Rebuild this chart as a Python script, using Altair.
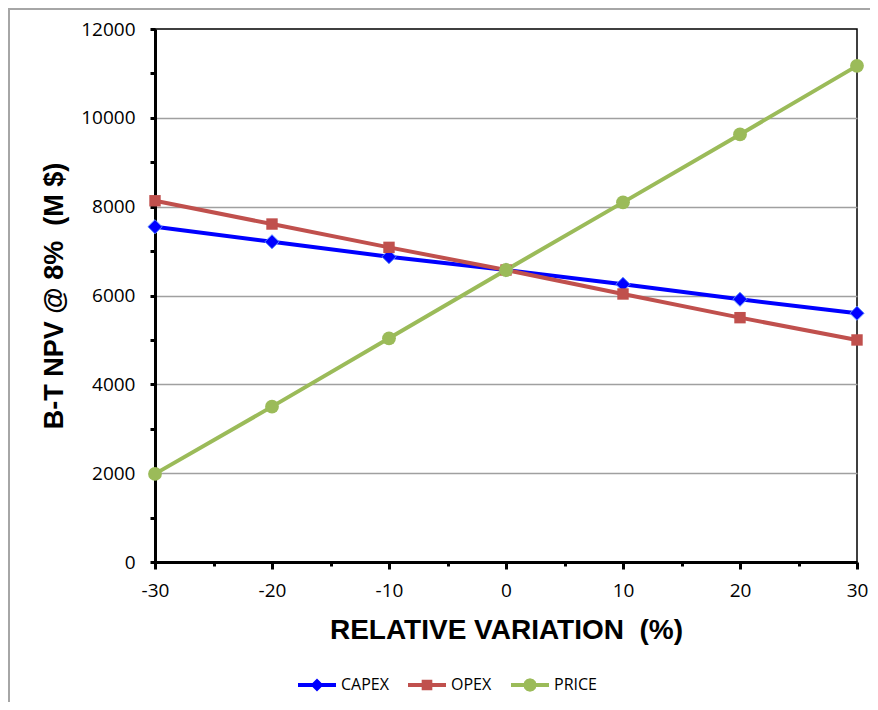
import altair as alt
import pandas as pd

variation = [-30, -20, -10, 0, 10, 20, 30]
capex = [7548, 7210, 6873, 6574, 6252, 5915, 5600]
opex = [8133, 7609, 7084, 6574, 6034, 5501, 4999]
price = [1984, 3498, 5037, 6574, 8097, 9627, 11170]
series_names = ["CAPEX", "OPEX", "PRICE"]
series_colors = ["#0000FF", "#C0504D", "#9BBB59"]
series_markers = ["diamond", "square", "circle"]

rows = []
for name, vals in zip(series_names, [capex, opex, price]):
    for v, y in zip(variation, vals):
        rows.append({"series": name, "var": v, "npv": y})
df = pd.DataFrame(rows)

# legend symbols: line segment + marker (unit coordinates)
seg = "M-1,-0.1L1,-0.1L1,0.1L-1,0.1Z"
legend_paths = [
    seg + "M0,-0.34L0.34,0L0,0.34L-0.34,0Z",
    seg + "M-0.28,-0.28L0.28,-0.28L0.28,0.28L-0.28,0.28Z",
    seg + "M0.35,0L0.30,0.18L0.18,0.30L0,0.35L-0.18,0.30L-0.30,0.18L-0.35,0L-0.30,-0.18L-0.18,-0.30L0,-0.35L0.18,-0.30L0.30,-0.18Z",
]

W, H = 702, 533
NB = "\u00a0"

x_enc = alt.X(
    "var:Q",
    scale=alt.Scale(domain=[-30, 30], nice=False, zero=False),
    axis=alt.Axis(
        title="RELATIVE VARIATION" + NB + NB + "(%)",
        values=list(range(-30, 31, 5)),
        labelExpr="datum.value % 10 === 0 ? (datum.value < 0 ? '-' + abs(datum.value) : '' + datum.value) : ''",
        tickSize={"condition": {"test": "datum.value % 10 === 0", "value": 7}, "value": 4},
        tickWidth=3,
        tickColor="black",
        domainColor="black",
        domainWidth=3,
        grid=False,
        labelFont="Open Sans",
        labelFontSize=19,
        labelColor="black",
        labelPadding=12,
        titleFont="Liberation Sans",
        titleFontSize=28,
        titleFontWeight="bold",
        titleColor="black",
        titlePadding=16,
        labelFlush=False,
    ),
)

y_enc = alt.Y(
    "npv:Q",
    scale=alt.Scale(domain=[0, 12000], nice=False),
    axis=alt.Axis(
        title="B-T NPV @ 8%" + NB + NB + "(M $)",
        values=list(range(0, 12001, 1000)),
        labelExpr="datum.value % 2000 === 0 ? datum.label : ''",
        format="d",
        tickSize=5,
        tickWidth=3,
        tickColor="black",
        domainColor="black",
        domainWidth=3,
        grid=True,
        gridColor={"condition": {"test": "datum.value % 2000 === 0 && datum.value > 0 && datum.value < 12000",
                                 "value": "#a0a0a0"}, "value": "rgba(0,0,0,0)"},
        gridWidth=1.6,
        labelFont="Open Sans",
        labelFontSize=19,
        labelColor="black",
        labelPadding=15,
        titleFont="Liberation Sans",
        titleFontSize=27,
        titleFontWeight="bold",
        titleColor="black",
        titlePadding=12,
        labelFlush=False,
    ),
)

base = alt.Chart(df)

marker_sizes = [200, 130, 190]
series_layers = []
for i, name in enumerate(series_names):
    sub = base.transform_filter(alt.datum.series == name)
    ln = sub.mark_line(strokeWidth=4, color=series_colors[i])
    if i == 0:
        ln = ln.encode(x=x_enc, y=y_enc)
    else:
        ln = ln.encode(x="var:Q", y="npv:Q")
    series_layers.append(ln)
for i, name in enumerate(series_names):
    sub = base.transform_filter(alt.datum.series == name)
    kw = dict(filled=True, shape=series_markers[i], size=marker_sizes[i], color=series_colors[i], opacity=1)
    if i == 0:
        kw.update(stroke="#5b8cff", strokeWidth=1)
    series_layers.append(sub.mark_point(**kw).encode(x="var:Q", y="npv:Q"))

legend_layer = base.mark_point(filled=True, size=0, opacity=1).encode(
    x="var:Q", y="npv:Q",
    color=alt.Color("series:N", scale=alt.Scale(domain=series_names, range=series_colors), legend=alt.Legend(
        title=None, orient="none", direction="horizontal",
        legendX=143, legendY=637,
        symbolSize=1444, symbolStrokeWidth=0, symbolOpacity=1,
        labelFont="Open Sans", labelFontSize=16, labelColor="black",
        labelOffset=5, columnPadding=19, padding=0,
    )),
    shape=alt.Shape("series:N", scale=alt.Scale(domain=series_names, range=legend_paths)),
)

frame_df = pd.DataFrame({"k": [0]})
frame = alt.Chart(frame_df).mark_rect(fill="transparent", stroke="#a6a6a6", strokeWidth=2).encode(
    x=alt.value(-146), x2=alt.value(740), y=alt.value(-20), y2=alt.value(700)
)

chart = alt.layer(frame, *series_layers, legend_layer).properties(
    width=W, height=H,
    autosize=alt.AutoSizeParams(type="none"),
    padding={"left": 147, "top": 21, "right": 13, "bottom": 140},
    background="white",
).configure_view(stroke="black", strokeWidth=1.5)

chart.save("out.html", embed_options={"renderer": "svg", "actions": False})
